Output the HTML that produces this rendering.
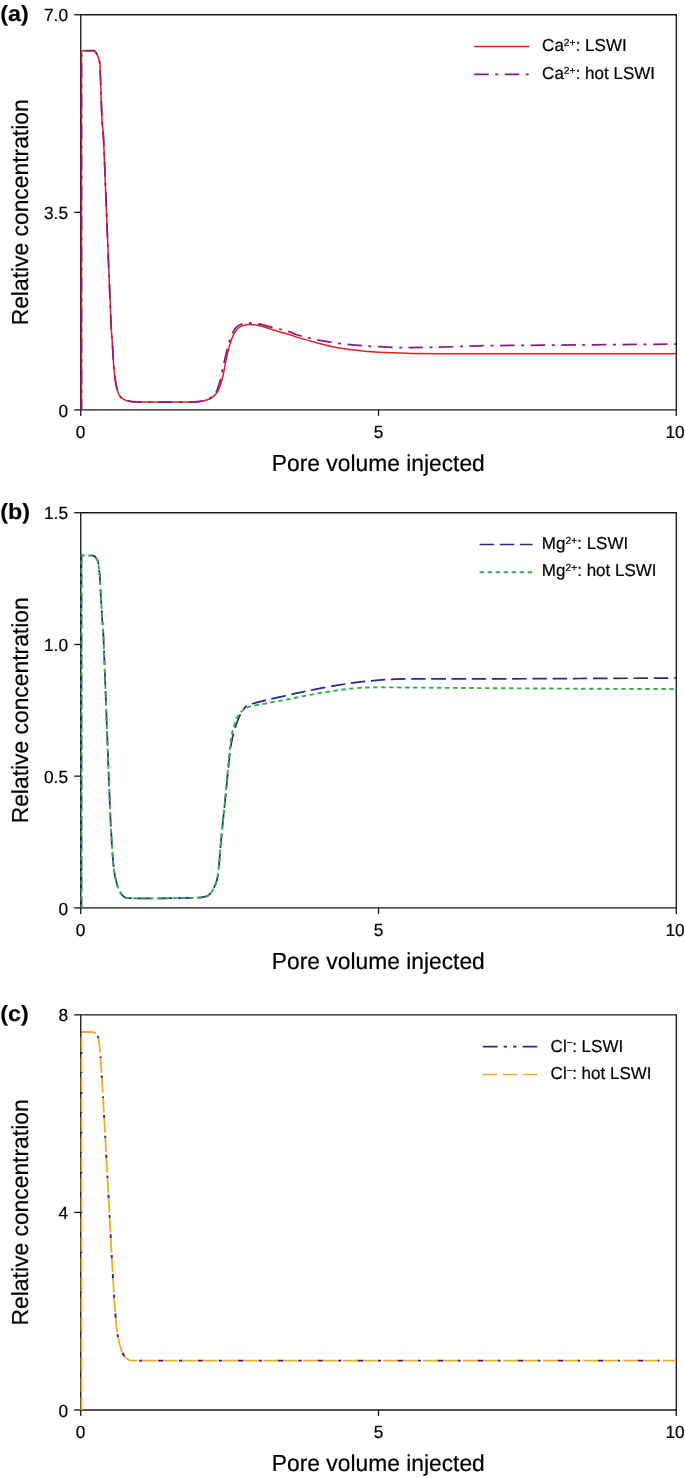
<!DOCTYPE html>
<html lang="en">
<head>
<meta charset="utf-8">
<title>Relative concentration vs pore volume injected</title>
<style>
html,body{margin:0;padding:0;background:#fff;}
svg{display:block;will-change:transform;}
svg text{font-family:'Liberation Sans', sans-serif;fill:#000;stroke:#000;stroke-width:0.2px;text-rendering:geometricPrecision;}
</style>
</head>
<body>
<svg width="685" height="1478" viewBox="0 0 685 1478">
<rect width="685" height="1478" fill="#fff"/>
<path d="M80.75 14.75 H676.3 V409.9 H80.75 Z" fill="none" stroke="#1d191a" stroke-width="1.35"/>
<path d="M74.2 14.75 H80.75" stroke="#1d191a" stroke-width="1.35"/>
<text transform="translate(68.00 21.15) scale(1 1.015)" text-anchor="end" font-size="17.3">7.0</text>
<path d="M74.2 212.32 H80.75" stroke="#1d191a" stroke-width="1.35"/>
<text transform="translate(68.00 218.72) scale(1 1.015)" text-anchor="end" font-size="17.3">3.5</text>
<path d="M74.2 409.90 H80.75" stroke="#1d191a" stroke-width="1.35"/>
<text transform="translate(68.00 417.20) scale(1 1.015)" text-anchor="end" font-size="17.3">0</text>
<path d="M80.75 409.9 V415.9" stroke="#1d191a" stroke-width="1.35"/>
<text transform="translate(80.45 437.70) scale(1 1.015)" text-anchor="middle" font-size="17.3">0</text>
<path d="M378.52 409.9 V415.9" stroke="#1d191a" stroke-width="1.35"/>
<text transform="translate(378.62 437.70) scale(1 1.015)" text-anchor="middle" font-size="17.3">5</text>
<path d="M676.30 409.9 V415.9" stroke="#1d191a" stroke-width="1.35"/>
<text transform="translate(675.00 437.70) scale(1 1.015)" text-anchor="middle" font-size="17.3">10</text>
<text transform="translate(378.30 471.10) scale(1 1.015)" text-anchor="middle" font-size="22.8">Pore volume injected</text>
<text transform="translate(28.10 212.32) rotate(-90) scale(1 1.015)" text-anchor="middle" font-size="22.85">Relative concentration</text>
<text transform="translate(0.3 20.75) scale(1.06 1)" font-size="22" font-weight="bold" style="stroke-width:0.15px">(a)</text>
<path d="M81.50 409.70 L81.50 50.70 L94.10 50.70 L94.10 50.70 C94.42 51.02 95.40 51.70 96.00 52.60 C96.60 53.50 97.17 54.70 97.70 56.10 C98.23 57.50 98.83 59.55 99.20 61.00 C99.57 62.45 99.65 61.00 99.90 64.80 C100.15 68.60 100.33 74.30 100.70 83.80 C101.07 93.30 101.62 112.43 102.10 121.80 C102.58 131.17 102.78 122.80 103.60 140.00 C104.42 157.20 105.78 195.00 107.00 225.00 C108.22 255.00 110.02 300.52 110.90 320.00 C111.78 339.48 111.82 334.12 112.30 341.90 C112.78 349.68 113.18 359.65 113.80 366.70 C114.42 373.75 115.15 379.57 116.00 384.20 C116.85 388.83 117.57 391.93 118.90 394.50 C120.23 397.07 121.93 398.43 124.00 399.60 C126.07 400.77 129.10 401.10 131.30 401.50 C133.50 401.90 132.42 401.92 137.20 402.00 C141.98 402.08 151.20 402.00 160.00 402.00 C168.80 402.00 183.53 402.05 190.00 402.00 C196.47 401.95 196.13 402.00 198.80 401.70 C201.47 401.40 203.82 400.88 206.00 400.20 C208.18 399.52 210.07 398.88 211.90 397.60 C213.73 396.32 215.53 394.68 217.00 392.50 C218.47 390.32 219.60 387.78 220.70 384.50 C221.80 381.22 222.63 377.18 223.60 372.80 C224.57 368.42 225.42 363.07 226.50 358.20 C227.58 353.33 228.88 347.62 230.10 343.60 C231.32 339.58 232.45 336.67 233.80 334.10 C235.15 331.53 236.62 329.63 238.20 328.20 C239.78 326.77 241.35 326.10 243.30 325.50 C245.25 324.90 247.58 324.63 249.90 324.60 C252.22 324.57 254.53 324.82 257.20 325.30 C259.87 325.78 262.50 326.52 265.90 327.50 C269.30 328.48 273.58 329.98 277.60 331.20 C281.62 332.42 286.68 333.77 290.00 334.80 C293.32 335.83 293.33 336.15 297.50 337.40 C301.67 338.65 309.15 340.75 315.00 342.30 C320.85 343.85 326.77 345.48 332.60 346.70 C338.43 347.92 344.17 348.82 350.00 349.60 C355.83 350.38 360.77 350.87 367.60 351.40 C374.43 351.93 383.70 352.47 391.00 352.80 C398.30 353.13 403.13 353.25 411.40 353.40 C419.67 353.55 429.17 353.65 440.60 353.70 C452.03 353.75 456.77 353.70 480.00 353.70 C503.23 353.70 547.32 353.70 580.00 353.70 C612.68 353.70 660.08 353.70 676.10 353.70" fill="none" stroke="#dc231f" stroke-width="1.5" stroke-linejoin="round"/>
<path d="M81.50 409.70 L81.50 50.70 L94.10 50.70 L94.10 50.70 C94.42 51.02 95.40 51.70 96.00 52.60 C96.60 53.50 97.17 54.70 97.70 56.10 C98.23 57.50 98.83 59.55 99.20 61.00 C99.57 62.45 99.65 61.00 99.90 64.80 C100.15 68.60 100.33 74.30 100.70 83.80 C101.07 93.30 101.62 112.43 102.10 121.80 C102.58 131.17 102.78 122.80 103.60 140.00 C104.42 157.20 105.78 195.00 107.00 225.00 C108.22 255.00 110.02 300.52 110.90 320.00 C111.78 339.48 111.82 334.12 112.30 341.90 C112.78 349.68 113.18 359.65 113.80 366.70 C114.42 373.75 115.15 379.57 116.00 384.20 C116.85 388.83 117.57 391.93 118.90 394.50 C120.23 397.07 121.93 398.43 124.00 399.60 C126.07 400.77 129.10 401.10 131.30 401.50 C133.50 401.90 132.42 401.92 137.20 402.00 C141.98 402.08 151.20 402.00 160.00 402.00 C168.80 402.00 183.67 402.07 190.00 402.00 C196.33 401.93 195.57 401.85 198.00 401.60 C200.43 401.35 202.28 401.28 204.60 400.50 C206.92 399.72 209.95 398.35 211.90 396.90 C213.85 395.45 214.97 394.37 216.30 391.80 C217.63 389.23 218.82 385.40 219.90 381.50 C220.98 377.60 221.82 372.77 222.80 368.40 C223.78 364.03 224.70 359.80 225.80 355.30 C226.90 350.80 228.18 345.30 229.40 341.40 C230.62 337.50 231.88 334.33 233.10 331.90 C234.32 329.47 235.12 328.13 236.70 326.80 C238.28 325.47 240.17 324.52 242.60 323.90 C245.03 323.28 248.38 323.05 251.30 323.10 C254.22 323.15 256.68 323.52 260.10 324.20 C263.52 324.88 268.15 326.28 271.80 327.20 C275.45 328.12 278.97 328.92 282.00 329.70 C285.03 330.48 287.42 331.02 290.00 331.90 C292.58 332.78 293.33 333.75 297.50 335.00 C301.67 336.25 309.15 338.13 315.00 339.40 C320.85 340.67 326.77 341.72 332.60 342.60 C338.43 343.48 344.17 344.12 350.00 344.70 C355.83 345.28 360.77 345.67 367.60 346.10 C374.43 346.53 383.70 347.05 391.00 347.30 C398.30 347.55 404.60 347.60 411.40 347.60 C418.20 347.60 424.50 347.45 431.80 347.30 C439.10 347.15 447.17 346.95 455.20 346.70 C463.23 346.45 459.20 346.10 480.00 345.80 C500.80 345.50 547.32 345.18 580.00 344.90 C612.68 344.62 660.08 344.23 676.10 344.10" fill="none" stroke="#90178a" stroke-width="1.75" stroke-linejoin="round" stroke-dasharray="14.6 6.5 3 6.45" stroke-dashoffset="4.35"/>
<path d="M474.1 46.50 H529.5" stroke="#dc231f" stroke-width="1.5" fill="none"/>
<text transform="translate(542.10 51.45) scale(1 1.015)" text-anchor="start" font-size="17.0">Ca<tspan font-size="10.2" letter-spacing="0.1" dy="-5.4">2+</tspan><tspan dy="5.4">: LSWI</tspan></text>
<path d="M474.1 74.30 H529.5" stroke="#90178a" stroke-width="1.75" stroke-dasharray="14.6 6.5 3 6.45" fill="none"/>
<text transform="translate(542.10 79.10) scale(1 1.015)" text-anchor="start" font-size="17.0">Ca<tspan font-size="10.2" letter-spacing="0.1" dy="-5.4">2+</tspan><tspan dy="5.4">: hot LSWI</tspan></text>
<path d="M80.75 512.75 H676.3 V907.9 H80.75 Z" fill="none" stroke="#1d191a" stroke-width="1.35"/>
<path d="M74.2 512.75 H80.75" stroke="#1d191a" stroke-width="1.35"/>
<text transform="translate(68.00 519.15) scale(1 1.015)" text-anchor="end" font-size="17.3">1.5</text>
<path d="M74.2 644.47 H80.75" stroke="#1d191a" stroke-width="1.35"/>
<text transform="translate(68.00 650.87) scale(1 1.015)" text-anchor="end" font-size="17.3">1.0</text>
<path d="M74.2 776.18 H80.75" stroke="#1d191a" stroke-width="1.35"/>
<text transform="translate(68.00 782.58) scale(1 1.015)" text-anchor="end" font-size="17.3">0.5</text>
<path d="M74.2 907.90 H80.75" stroke="#1d191a" stroke-width="1.35"/>
<text transform="translate(68.00 915.20) scale(1 1.015)" text-anchor="end" font-size="17.3">0</text>
<path d="M80.75 907.9 V913.9" stroke="#1d191a" stroke-width="1.35"/>
<text transform="translate(80.45 935.70) scale(1 1.015)" text-anchor="middle" font-size="17.3">0</text>
<path d="M378.52 907.9 V913.9" stroke="#1d191a" stroke-width="1.35"/>
<text transform="translate(378.62 935.70) scale(1 1.015)" text-anchor="middle" font-size="17.3">5</text>
<path d="M676.30 907.9 V913.9" stroke="#1d191a" stroke-width="1.35"/>
<text transform="translate(675.00 935.70) scale(1 1.015)" text-anchor="middle" font-size="17.3">10</text>
<text transform="translate(378.30 969.10) scale(1 1.015)" text-anchor="middle" font-size="22.8">Pore volume injected</text>
<text transform="translate(28.10 710.33) rotate(-90) scale(1 1.015)" text-anchor="middle" font-size="22.85">Relative concentration</text>
<text transform="translate(0.3 518.75) scale(1.06 1)" font-size="22" font-weight="bold" style="stroke-width:0.15px">(b)</text>
<path d="M81.50 907.80 L81.50 555.50 L91.90 555.50 L91.90 555.50 C92.33 555.63 93.77 555.85 94.50 556.30 C95.23 556.75 95.78 557.45 96.30 558.20 C96.82 558.95 97.23 559.82 97.60 560.80 C97.97 561.78 98.12 561.23 98.50 564.10 C98.88 566.97 99.48 572.28 99.90 578.00 C100.32 583.72 100.58 591.10 101.00 598.40 C101.42 605.70 101.97 614.87 102.40 621.80 C102.83 628.73 102.83 621.97 103.60 640.00 C104.37 658.03 105.92 701.67 107.00 730.00 C108.08 758.33 109.33 791.80 110.10 810.00 C110.87 828.20 110.98 829.47 111.60 839.20 C112.22 848.93 112.95 861.10 113.80 868.40 C114.65 875.70 115.60 878.98 116.70 883.00 C117.80 887.02 119.07 890.13 120.40 892.50 C121.73 894.87 122.88 896.25 124.70 897.20 C126.52 898.15 125.42 898.02 131.30 898.20 C137.18 898.38 150.22 898.35 160.00 898.30 C169.78 898.25 183.52 898.02 190.00 897.90 C196.48 897.78 196.57 897.77 198.90 897.60 C201.23 897.43 202.50 897.22 204.00 896.90 C205.50 896.58 206.52 896.70 207.90 895.70 C209.28 894.70 210.82 893.43 212.30 890.90 C213.78 888.37 215.68 884.72 216.80 880.50 C217.92 876.28 218.38 871.30 219.00 865.60 C219.62 859.90 219.88 853.25 220.50 846.30 C221.12 839.35 221.95 831.35 222.70 823.90 C223.45 816.45 224.25 809.03 225.00 801.60 C225.75 794.17 226.45 786.73 227.20 779.30 C227.95 771.87 228.83 762.88 229.50 757.00 C230.17 751.12 230.48 748.12 231.20 744.00 C231.92 739.88 232.63 736.43 233.80 732.30 C234.97 728.17 236.67 722.92 238.20 719.20 C239.73 715.48 241.60 712.27 243.00 710.00 C244.40 707.73 246.00 706.33 246.60 705.60" fill="none" stroke="#2c2489" stroke-width="1.7" stroke-linejoin="round" stroke-dasharray="14.5 5.7" stroke-dashoffset="3.5"/>
<path d="M246.60 705.60 C247.08 705.42 248.23 704.88 249.50 704.50 C250.77 704.12 251.37 704.05 254.20 703.30 C257.03 702.55 261.37 701.25 266.50 700.00 C271.63 698.75 278.92 697.17 285.00 695.80 C291.08 694.43 297.00 693.08 303.00 691.80 C309.00 690.52 314.92 689.25 321.00 688.10 C327.08 686.95 333.83 685.82 339.50 684.90 C345.17 683.98 350.13 683.25 355.00 682.60 C359.87 681.95 364.20 681.45 368.70 681.00 C373.20 680.55 377.45 680.20 382.00 679.90 C386.55 679.60 391.17 679.37 396.00 679.20 C400.83 679.03 403.67 678.95 411.00 678.90 C418.33 678.85 428.50 678.90 440.00 678.90 C451.50 678.90 456.67 678.97 480.00 678.90 C503.33 678.83 547.32 678.65 580.00 678.50 C612.68 678.35 660.08 678.08 676.10 678.00" fill="none" stroke="#2c2489" stroke-width="1.7" stroke-linejoin="round" stroke-dasharray="14.5 5.7" stroke-dashoffset="14.5"/>
<path d="M81.50 907.80 L81.50 555.50 L91.90 555.50 L91.90 555.50 C92.33 555.63 93.77 555.85 94.50 556.30 C95.23 556.75 95.78 557.45 96.30 558.20 C96.82 558.95 97.23 559.82 97.60 560.80 C97.97 561.78 98.12 561.23 98.50 564.10 C98.88 566.97 99.48 572.28 99.90 578.00 C100.32 583.72 100.58 591.10 101.00 598.40 C101.42 605.70 101.97 614.87 102.40 621.80 C102.83 628.73 102.83 621.97 103.60 640.00 C104.37 658.03 105.92 701.67 107.00 730.00 C108.08 758.33 109.33 791.80 110.10 810.00 C110.87 828.20 110.98 829.47 111.60 839.20 C112.22 848.93 112.95 861.10 113.80 868.40 C114.65 875.70 115.60 878.98 116.70 883.00 C117.80 887.02 119.07 890.13 120.40 892.50 C121.73 894.87 122.88 896.25 124.70 897.20 C126.52 898.15 125.42 898.02 131.30 898.20 C137.18 898.38 150.22 898.35 160.00 898.30 C169.78 898.25 183.52 898.02 190.00 897.90 C196.48 897.78 196.57 897.77 198.90 897.60 C201.23 897.43 202.50 897.22 204.00 896.90 C205.50 896.58 206.52 896.70 207.90 895.70 C209.28 894.70 210.82 893.43 212.30 890.90 C213.78 888.37 215.68 884.72 216.80 880.50 C217.92 876.28 218.38 871.30 219.00 865.60 C219.62 859.90 219.88 853.25 220.50 846.30 C221.12 839.35 221.95 831.35 222.70 823.90 C223.45 816.45 224.28 809.03 225.00 801.60 C225.72 794.17 226.32 786.73 227.00 779.30 C227.68 771.87 228.52 762.88 229.10 757.00 C229.68 751.12 229.97 748.12 230.50 744.00 C231.03 739.88 231.27 736.55 232.30 732.30 C233.33 728.05 235.12 722.02 236.70 718.50 C238.28 714.98 240.18 713.02 241.80 711.20 C243.42 709.38 244.70 708.47 246.40 707.60 C248.10 706.73 248.65 706.72 252.00 706.00 C255.35 705.28 261.00 704.33 266.50 703.30 C272.00 702.27 278.92 700.98 285.00 699.80 C291.08 698.62 297.00 697.35 303.00 696.20 C309.00 695.05 314.92 693.93 321.00 692.90 C327.08 691.87 333.83 690.78 339.50 690.00 C345.17 689.22 350.25 688.62 355.00 688.20 C359.75 687.78 363.83 687.65 368.00 687.50 C372.17 687.35 375.67 687.32 380.00 687.30 C384.33 687.28 377.33 687.27 394.00 687.40 C410.67 687.53 449.00 687.88 480.00 688.10 C511.00 688.32 547.32 688.53 580.00 688.70 C612.68 688.87 660.08 689.03 676.10 689.10" fill="none" stroke="#2bb04a" stroke-width="1.9" stroke-linejoin="round" stroke-dasharray="4.4 3.6" stroke-dashoffset="0.8"/>
<path d="M479.6 544.50 H532.5" stroke="#2c2489" stroke-width="1.7" stroke-dasharray="14.5 5.7" fill="none"/>
<text transform="translate(541.75 549.30) scale(1 1.015)" text-anchor="start" font-size="17.0">Mg<tspan font-size="10.2" letter-spacing="0.1" dy="-5.4">2+</tspan><tspan dy="5.4">: LSWI</tspan></text>
<path d="M479.6 572.30 H532.5" stroke="#2bb04a" stroke-width="1.9" stroke-dasharray="4.4 3.6" fill="none"/>
<text transform="translate(541.75 576.40) scale(1 1.015)" text-anchor="start" font-size="17.0">Mg<tspan font-size="10.2" letter-spacing="0.1" dy="-5.4">2+</tspan><tspan dy="5.4">: hot LSWI</tspan></text>
<path d="M80.75 1014.85 H676.3 V1409.95 H80.75 Z" fill="none" stroke="#1d191a" stroke-width="1.35"/>
<path d="M74.2 1014.85 H80.75" stroke="#1d191a" stroke-width="1.35"/>
<text transform="translate(68.00 1021.25) scale(1 1.015)" text-anchor="end" font-size="17.3">8</text>
<path d="M74.2 1212.40 H80.75" stroke="#1d191a" stroke-width="1.35"/>
<text transform="translate(68.00 1218.80) scale(1 1.015)" text-anchor="end" font-size="17.3">4</text>
<path d="M74.2 1409.95 H80.75" stroke="#1d191a" stroke-width="1.35"/>
<text transform="translate(68.00 1417.25) scale(1 1.015)" text-anchor="end" font-size="17.3">0</text>
<path d="M80.75 1409.95 V1415.95" stroke="#1d191a" stroke-width="1.35"/>
<text transform="translate(80.45 1437.75) scale(1 1.015)" text-anchor="middle" font-size="17.3">0</text>
<path d="M378.52 1409.95 V1415.95" stroke="#1d191a" stroke-width="1.35"/>
<text transform="translate(378.62 1437.75) scale(1 1.015)" text-anchor="middle" font-size="17.3">5</text>
<path d="M676.30 1409.95 V1415.95" stroke="#1d191a" stroke-width="1.35"/>
<text transform="translate(675.00 1437.75) scale(1 1.015)" text-anchor="middle" font-size="17.3">10</text>
<text transform="translate(378.30 1471.15) scale(1 1.015)" text-anchor="middle" font-size="22.8">Pore volume injected</text>
<text transform="translate(28.10 1212.40) rotate(-90) scale(1 1.015)" text-anchor="middle" font-size="22.85">Relative concentration</text>
<text transform="translate(0.3 1020.85) scale(1.06 1)" font-size="22" font-weight="bold" style="stroke-width:0.15px">(c)</text>
<mask id="mc" maskUnits="userSpaceOnUse" x="0" y="1000" width="685" height="430"><rect x="0" y="1000" width="685" height="430" fill="#fff"/><path d="M81.50 1410.10 L81.50 1032.00 L91.90 1032.00 L91.90 1032.00 C92.33 1032.08 93.77 1032.18 94.50 1032.50 C95.23 1032.82 95.78 1033.32 96.30 1033.90 C96.82 1034.48 97.23 1035.15 97.60 1036.00 C97.97 1036.85 98.12 1036.80 98.50 1039.00 C98.88 1041.20 99.42 1043.85 99.90 1049.20 C100.38 1054.55 100.92 1063.80 101.40 1071.10 C101.88 1078.40 102.32 1084.85 102.80 1093.00 C103.28 1101.15 103.32 1102.17 104.30 1120.00 C105.28 1137.83 107.23 1173.33 108.70 1200.00 C110.17 1226.67 112.13 1263.02 113.10 1280.00 C114.07 1296.98 113.90 1293.87 114.50 1301.90 C115.10 1309.93 115.85 1321.15 116.70 1328.20 C117.55 1335.25 118.50 1339.82 119.60 1344.20 C120.70 1348.58 121.83 1351.93 123.30 1354.50 C124.77 1357.07 126.82 1358.58 128.40 1359.60 C129.98 1360.62 127.53 1360.43 132.80 1360.60 C138.07 1360.77 132.13 1360.60 160.00 1360.60 C187.87 1360.60 213.98 1360.60 300.00 1360.60 C386.02 1360.60 613.42 1360.60 676.10 1360.60" fill="none" stroke="#000" stroke-width="4" stroke-dasharray="14.5 5.5" stroke-dashoffset="1.6"/></mask>
<g mask="url(#mc)"><path d="M81.50 1410.10 L81.50 1032.00 L91.90 1032.00 L91.90 1032.00 C92.33 1032.08 93.77 1032.18 94.50 1032.50 C95.23 1032.82 95.78 1033.32 96.30 1033.90 C96.82 1034.48 97.23 1035.15 97.60 1036.00 C97.97 1036.85 98.12 1036.80 98.50 1039.00 C98.88 1041.20 99.42 1043.85 99.90 1049.20 C100.38 1054.55 100.92 1063.80 101.40 1071.10 C101.88 1078.40 102.32 1084.85 102.80 1093.00 C103.28 1101.15 103.32 1102.17 104.30 1120.00 C105.28 1137.83 107.23 1173.33 108.70 1200.00 C110.17 1226.67 112.13 1263.02 113.10 1280.00 C114.07 1296.98 113.90 1293.87 114.50 1301.90 C115.10 1309.93 115.85 1321.15 116.70 1328.20 C117.55 1335.25 118.50 1339.82 119.60 1344.20 C120.70 1348.58 121.83 1351.93 123.30 1354.50 C124.77 1357.07 126.82 1358.58 128.40 1359.60 C129.98 1360.62 127.53 1360.43 132.80 1360.60 C138.07 1360.77 132.13 1360.60 160.00 1360.60 C187.87 1360.60 213.98 1360.60 300.00 1360.60 C386.02 1360.60 613.42 1360.60 676.10 1360.60" fill="none" stroke="#2c2489" stroke-width="1.9" stroke-linejoin="round" stroke-dasharray="14.7 6.05 3.4 6.05 3.4 6.15" stroke-dashoffset="1.6"/></g>
<path d="M81.50 1410.10 L81.50 1032.00 L91.90 1032.00 L91.90 1032.00 C92.33 1032.08 93.77 1032.18 94.50 1032.50 C95.23 1032.82 95.78 1033.32 96.30 1033.90 C96.82 1034.48 97.23 1035.15 97.60 1036.00 C97.97 1036.85 98.12 1036.80 98.50 1039.00 C98.88 1041.20 99.42 1043.85 99.90 1049.20 C100.38 1054.55 100.92 1063.80 101.40 1071.10 C101.88 1078.40 102.32 1084.85 102.80 1093.00 C103.28 1101.15 103.32 1102.17 104.30 1120.00 C105.28 1137.83 107.23 1173.33 108.70 1200.00 C110.17 1226.67 112.13 1263.02 113.10 1280.00 C114.07 1296.98 113.90 1293.87 114.50 1301.90 C115.10 1309.93 115.85 1321.15 116.70 1328.20 C117.55 1335.25 118.50 1339.82 119.60 1344.20 C120.70 1348.58 121.83 1351.93 123.30 1354.50 C124.77 1357.07 126.82 1358.58 128.40 1359.60 C129.98 1360.62 127.53 1360.43 132.80 1360.60 C138.07 1360.77 132.13 1360.60 160.00 1360.60 C187.87 1360.60 213.98 1360.60 300.00 1360.60 C386.02 1360.60 613.42 1360.60 676.10 1360.60" fill="none" stroke="#f3ab21" stroke-width="1.8" stroke-linejoin="round" stroke-dasharray="14.5 5.5" stroke-dashoffset="1.6"/>
<path d="M482.85 1046.60 H537.2" stroke="#2c2489" stroke-width="1.9" stroke-dasharray="14.7 6.05 3.4 6.05 3.4 6.15" fill="none"/>
<text transform="translate(550.60 1051.55) scale(1 1.015)" text-anchor="start" font-size="17.0">Cl<tspan font-size="10.2" letter-spacing="-0.45" dy="-5.4">−</tspan><tspan dy="5.4">: LSWI</tspan></text>
<path d="M482.85 1074.40 H537.2" stroke="#f3ab21" stroke-width="1.5" stroke-dasharray="14.6 5.5" fill="none"/>
<text transform="translate(550.60 1079.35) scale(1 1.015)" text-anchor="start" font-size="17.0">Cl<tspan font-size="10.2" letter-spacing="-0.45" dy="-5.4">−</tspan><tspan dy="5.4">: hot LSWI</tspan></text>
</svg>
</body>
</html>
